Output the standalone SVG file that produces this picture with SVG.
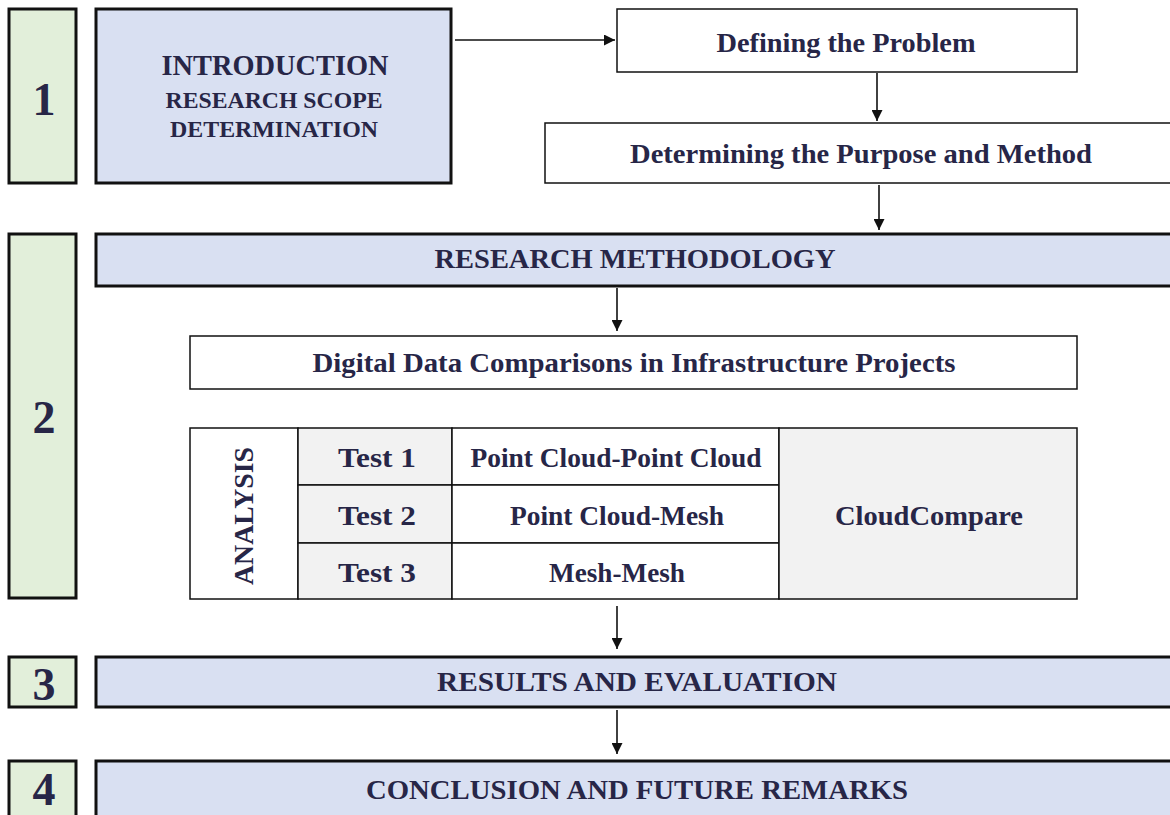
<svg xmlns="http://www.w3.org/2000/svg" width="1170" height="815" viewBox="0 0 1170 815">
<defs>
<style>
.num{fill:#e2efda;stroke:#111;stroke-width:3}
.blue{fill:#d9e0f2;stroke:#111;stroke-width:3}
.white{fill:#fff;stroke:#111;stroke-width:1.5}
.gray{fill:#f2f2f2;stroke:#111;stroke-width:1.5}
.cell{fill:#fff;stroke:#111;stroke-width:1.5}
text{font-weight:700;fill:#272647;text-anchor:middle}
.d{font-size:46px}
.h{font-size:27px}
.t{font-size:27px}
.c{stroke:#111;stroke-width:1.6;fill:none;marker-end:url(#ah)}
</style>
<marker id="ah" viewBox="0 0 10 10" refX="10" refY="5" markerWidth="12" markerHeight="11" markerUnits="userSpaceOnUse" orient="auto"><path d="M0,0L10,5L0,10z" fill="#111"/></marker>
</defs>
<rect width="1170" height="815" fill="#fff"/>
<g id="connectors">
<line class="c" x1="455" y1="40" x2="615" y2="40"/>
<line class="c" x1="877" y1="73" x2="877" y2="121"/>
<line class="c" x1="879" y1="185" x2="879" y2="230"/>
<line class="c" x1="617" y1="288" x2="617" y2="331"/>
<line class="c" x1="617" y1="606" x2="617" y2="649"/>
<line class="c" x1="617" y1="710" x2="617" y2="754"/>
</g>
<g font-family="Liberation Serif, Times New Roman, serif">
<g id="n1"><rect class="num" x="9" y="9" width="67" height="174"/><text class="d" x="44" y="115">1</text></g>
<g id="intro"><rect class="blue" x="96" y="9" width="355" height="174"/>
<text x="275" y="75" font-size="30" textLength="227" lengthAdjust="spacingAndGlyphs">INTRODUCTION</text>
<text x="274" y="108" font-size="23" textLength="217" lengthAdjust="spacingAndGlyphs">RESEARCH SCOPE</text>
<text x="274" y="137" font-size="23" textLength="208" lengthAdjust="spacingAndGlyphs">DETERMINATION</text></g>
<g id="define"><rect class="white" x="617" y="9" width="460" height="63"/><text class="h" x="846" y="52" textLength="259" lengthAdjust="spacingAndGlyphs">Defining the Problem</text></g>
<g id="purpose"><rect class="white" x="545" y="123" width="630" height="60"/><text class="h" x="861" y="163" textLength="462" lengthAdjust="spacingAndGlyphs">Determining the Purpose and Method</text></g>
<g id="n2"><rect class="num" x="9" y="234" width="67" height="364"/><text class="d" x="44" y="433">2</text></g>
<g id="method"><rect class="blue" x="96" y="234" width="1080" height="52"/><text class="h" x="635" y="268" textLength="401" lengthAdjust="spacingAndGlyphs">RESEARCH METHODOLOGY</text></g>
<g id="digital"><rect class="white" x="190" y="336" width="887" height="53"/><text class="h" x="634" y="372" textLength="643" lengthAdjust="spacingAndGlyphs">Digital Data Comparisons in Infrastructure Projects</text></g>
<g id="analysis">
<rect class="cell" x="190" y="428" width="108" height="171"/>
<text class="t" transform="translate(253,516) rotate(-90)" textLength="138" lengthAdjust="spacingAndGlyphs">ANALYSIS</text>
</g>
<g id="test1"><rect class="gray" x="298" y="428" width="154" height="57"/><text class="t" x="377" y="467" textLength="78" lengthAdjust="spacingAndGlyphs">Test  1</text></g>
<g id="test2"><rect class="gray" x="298" y="485" width="154" height="58"/><text class="t" x="377" y="525" textLength="78" lengthAdjust="spacingAndGlyphs">Test  2</text></g>
<g id="test3"><rect class="gray" x="298" y="543" width="154" height="56"/><text class="t" x="377" y="582" textLength="78" lengthAdjust="spacingAndGlyphs">Test  3</text></g>
<g id="pcpc"><rect class="cell" x="452" y="428" width="327" height="57"/><text class="t" x="616" y="467" textLength="291" lengthAdjust="spacingAndGlyphs">Point Cloud-Point Cloud</text></g>
<g id="pcm"><rect class="cell" x="452" y="485" width="327" height="58"/><text class="t" x="617" y="525" textLength="214" lengthAdjust="spacingAndGlyphs">Point Cloud-Mesh</text></g>
<g id="mm"><rect class="cell" x="452" y="543" width="327" height="56"/><text class="t" x="617" y="582" textLength="136" lengthAdjust="spacingAndGlyphs">Mesh-Mesh</text></g>
<g id="cc"><rect class="gray" x="779" y="428" width="298" height="171"/><text class="t" x="929" y="525" textLength="188" lengthAdjust="spacingAndGlyphs">CloudCompare</text></g>
<g id="n3"><rect class="num" x="9" y="657" width="67" height="50"/><text class="d" x="44" y="700">3</text></g>
<g id="results"><rect class="blue" x="96" y="657" width="1080" height="50"/><text class="h" x="637" y="691" textLength="400" lengthAdjust="spacingAndGlyphs">RESULTS AND EVALUATION</text></g>
<g id="n4"><rect class="num" x="9" y="761" width="67" height="60"/><text class="d" x="44" y="805">4</text></g>
<g id="conclusion"><rect class="blue" x="96" y="761" width="1080" height="60"/><text class="h" x="637" y="799" textLength="542" lengthAdjust="spacingAndGlyphs">CONCLUSION AND FUTURE REMARKS</text></g>
</g>
</svg>
